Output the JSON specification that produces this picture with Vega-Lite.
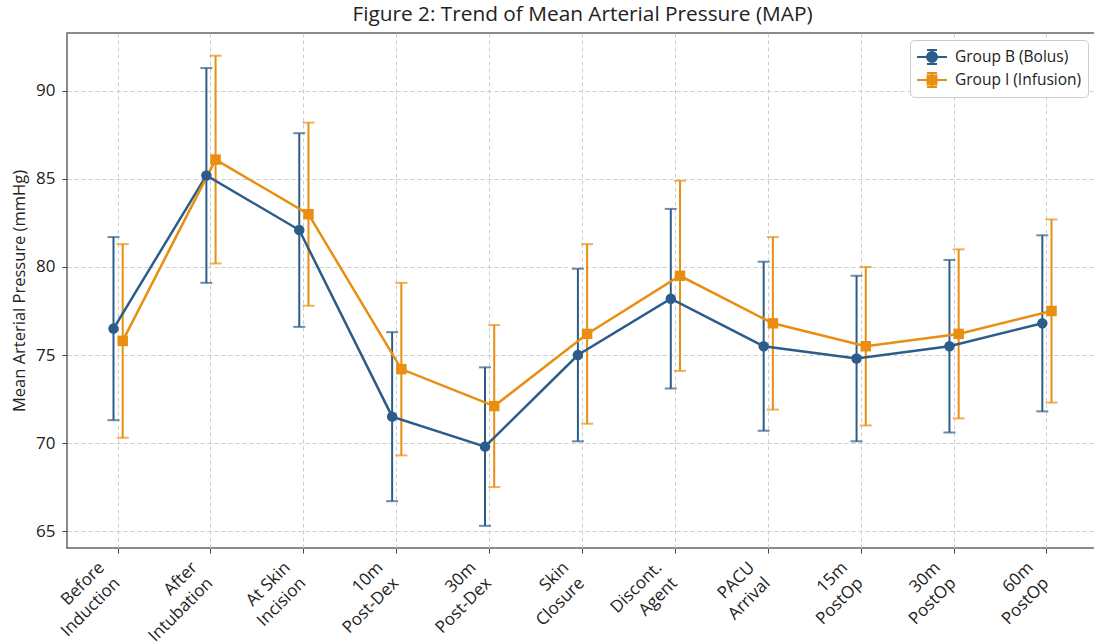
{
  "$schema": "https://vega.github.io/schema/vega-lite/v6.json",
  "width": 1031,
  "height": 515,
  "autosize": {"type": "none"},
  "padding": {"left": 67, "top": 33, "right": 0, "bottom": 95},
  "title": {"text": "Figure 2: Trend of Mean Arterial Pressure (MAP)", "fontSize": 20.8, "fontWeight": "normal", "font": "Open Sans", "color": "#222", "offset": 7, "anchor": "middle"},
  "config": {
    "view": {"stroke": "#666", "strokeWidth": 1.5},
    "axis": {"labelFont": "Open Sans", "titleFont": "Open Sans", "labelColor": "#222", "titleColor": "#222", "gridColor": "#cccccc", "gridDash": [4, 3], "gridWidth": 1, "tickColor": "#444", "tickSize": 5, "domain": false}
  },
  "data": {"values": [
    {"time": "Before Induction", "group": "Group B (Bolus)", "mean": 76.5, "lo": 71.3, "hi": 81.7},
    {"time": "After Intubation", "group": "Group B (Bolus)", "mean": 85.2, "lo": 79.1, "hi": 91.3},
    {"time": "At Skin Incision", "group": "Group B (Bolus)", "mean": 82.1, "lo": 76.6, "hi": 87.6},
    {"time": "10m Post-Dex", "group": "Group B (Bolus)", "mean": 71.5, "lo": 66.7, "hi": 76.3},
    {"time": "30m Post-Dex", "group": "Group B (Bolus)", "mean": 69.8, "lo": 65.3, "hi": 74.3},
    {"time": "Skin Closure", "group": "Group B (Bolus)", "mean": 75.0, "lo": 70.1, "hi": 79.9},
    {"time": "Discont. Agent", "group": "Group B (Bolus)", "mean": 78.2, "lo": 73.1, "hi": 83.3},
    {"time": "PACU Arrival", "group": "Group B (Bolus)", "mean": 75.5, "lo": 70.7, "hi": 80.3},
    {"time": "15m PostOp", "group": "Group B (Bolus)", "mean": 74.8, "lo": 70.1, "hi": 79.5},
    {"time": "30m PostOp", "group": "Group B (Bolus)", "mean": 75.5, "lo": 70.6, "hi": 80.4},
    {"time": "60m PostOp", "group": "Group B (Bolus)", "mean": 76.8, "lo": 71.8, "hi": 81.8},
    {"time": "Before Induction", "group": "Group I (Infusion)", "mean": 75.8, "lo": 70.3, "hi": 81.3},
    {"time": "After Intubation", "group": "Group I (Infusion)", "mean": 86.1, "lo": 80.2, "hi": 92.0},
    {"time": "At Skin Incision", "group": "Group I (Infusion)", "mean": 83.0, "lo": 77.8, "hi": 88.2},
    {"time": "10m Post-Dex", "group": "Group I (Infusion)", "mean": 74.2, "lo": 69.3, "hi": 79.1},
    {"time": "30m Post-Dex", "group": "Group I (Infusion)", "mean": 72.1, "lo": 67.5, "hi": 76.7},
    {"time": "Skin Closure", "group": "Group I (Infusion)", "mean": 76.2, "lo": 71.1, "hi": 81.3},
    {"time": "Discont. Agent", "group": "Group I (Infusion)", "mean": 79.5, "lo": 74.1, "hi": 84.9},
    {"time": "PACU Arrival", "group": "Group I (Infusion)", "mean": 76.8, "lo": 71.9, "hi": 81.7},
    {"time": "15m PostOp", "group": "Group I (Infusion)", "mean": 75.5, "lo": 71.0, "hi": 80.0},
    {"time": "30m PostOp", "group": "Group I (Infusion)", "mean": 76.2, "lo": 71.4, "hi": 81.0},
    {"time": "60m PostOp", "group": "Group I (Infusion)", "mean": 77.5, "lo": 72.3, "hi": 82.7}
  ]},
  "encoding": {
    "x": {"field": "time", "type": "nominal", "sort": null,
      "scale": {"paddingInner": 0, "paddingOuter": 0.05},
      "axis": {"title": null, "labelAngle": -45, "labelAlign": "right", "labelBaseline": "top", "labelFontSize": 17, "labelLineHeight": 22, "labelPadding": 6, "labelOffset": -22, "bandPosition": 0.5, "grid": true,
        "labelExpr": "[substring(datum.value, 0, lastindexof(datum.value, ' ')), substring(datum.value, lastindexof(datum.value, ' ') + 1)]"}},
    "xOffset": {"field": "group", "type": "nominal", "scale": {"paddingInner": 0, "paddingOuter": 0, "range": [37.25, 55.65]}},
    "color": {"field": "group", "type": "nominal",
      "scale": {"domain": ["Group B (Bolus)", "Group I (Infusion)"], "range": ["#2C5D8A", "#E88E10"]},
      "legend": {"title": null, "orient": "none", "legendX": 843, "legendY": 7, "labelFont": "Open Sans", "labelFontSize": 15.5, "labelColor": "#222", "padding": 6, "rowPadding": 1, "strokeColor": "#cccccc", "cornerRadius": 4, "fillColor": "white", "symbolSize": 400, "symbolStrokeWidth": 2, "symbolOffset": 5, "labelOffset": 12,
           "encode": {"symbols": {"update": {
             "shape": {"signal": "datum.value === 'Group B (Bolus)' ? 'M-1.5,0H1.5M0,-0.7V0.7M-0.5,-0.7H0.5M-0.5,0.7H0.5M-0.5,0A0.5,0.5 0 1,0 0.5,0A0.5,0.5 0 1,0 -0.5,0Z' : 'M-1.5,0H1.5M0,-0.7V0.7M-0.5,-0.7H0.5M-0.5,0.7H0.5M-0.45,-0.45H0.45V0.45H-0.45Z'"},
             "stroke": {"signal": "datum.value === 'Group B (Bolus)' ? '#2C5D8A' : '#E88E10'"},
             "fill": {"signal": "datum.value === 'Group B (Bolus)' ? '#2C5D8A' : '#E88E10'"},
             "strokeWidth": {"value": 2},
             "opacity": {"value": 1},
             "size": {"value": 400}
           }}}}}
  },
  "layer": [
    {"mark": {"type": "rule", "strokeWidth": 2},
     "encoding": {"y": {"field": "lo", "type": "quantitative", "scale": {"domain": [64.04, 93.29], "nice": false, "zero": false},
        "axis": {"title": "Mean Arterial Pressure (mmHg)", "titleFontSize": 16.5, "titleFontWeight": "normal", "titlePadding": 8, "labelFontSize": 17, "labelPadding": 7, "values": [65, 70, 75, 80, 85, 90], "grid": true}},
      "y2": {"field": "hi"}}},
    {"mark": {"type": "tick", "size": 12, "thickness": 2},
     "encoding": {"y": {"field": "lo", "type": "quantitative"}}},
    {"mark": {"type": "tick", "size": 12, "thickness": 2},
     "encoding": {"y": {"field": "hi", "type": "quantitative"}}},
    {"mark": {"type": "line", "strokeWidth": 2.5},
     "encoding": {"y": {"field": "mean", "type": "quantitative"}, "detail": {"field": "group"}}},
    {"transform": [{"filter": "datum.group === 'Group B (Bolus)'"}],
     "mark": {"type": "circle", "opacity": 1, "size": 110},
     "encoding": {"y": {"field": "mean", "type": "quantitative"}}},
    {"transform": [{"filter": "datum.group === 'Group I (Infusion)'"}],
     "mark": {"type": "square", "opacity": 1, "size": 110},
     "encoding": {"y": {"field": "mean", "type": "quantitative"}}}
  ]
}
